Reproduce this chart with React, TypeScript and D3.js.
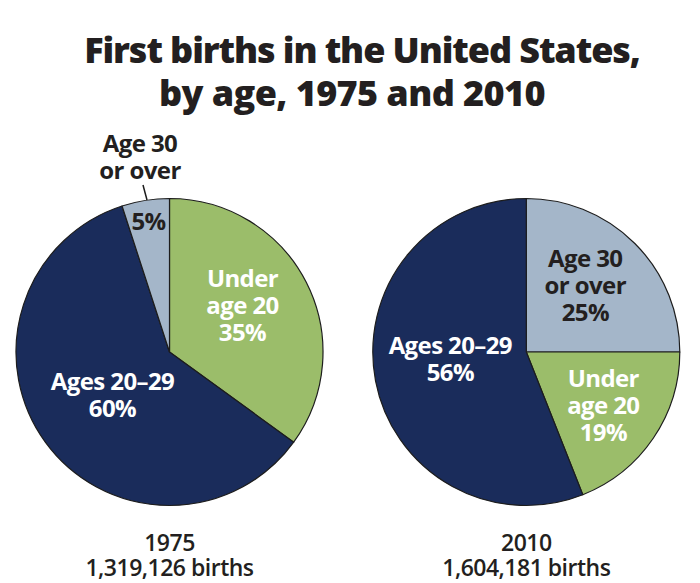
import React from "react";
import * as d3 from "d3";

const categories = ["Under age 20", "Ages 20–29", "Age 30 or over"];
const years = ["1975", "2010"];
const totals = ["1,319,126 births", "1,604,181 births"];
// order of slices clockwise from 12 o'clock for each pie
const order1975 = ["Under age 20", "Ages 20–29", "Age 30 or over"];
const values1975 = [35, 60, 5];
const order2010 = ["Age 30 or over", "Under age 20", "Ages 20–29"];
const values2010 = [25, 19, 56];

const colors: Record<string, string> = {
  "Under age 20": "#9bbd6a",
  "Ages 20–29": "#1a2c5b",
  "Age 30 or over": "#a4b6c9",
};
const textColors: Record<string, string> = {
  "Under age 20": "#ffffff",
  "Ages 20–29": "#ffffff",
  "Age 30 or over": "#231f20",
};

const W = 700;
const H = 583;
const R = 153.5;
const FONT = "'Open Sans', 'Noto Sans', sans-serif";

type Lbl = { lines: string[]; x: number; y: number };

// label anchors relative to pie center (dx, dy of first baseline)
const labels1975: Record<string, Lbl> = {
  "Under age 20": { lines: ["Under", "age 20", "35%"], x: 73, y: -65 },
  "Ages 20–29": { lines: ["Ages 20–29", "60%"], x: -57, y: 38 },
  "Age 30 or over": { lines: ["5%"], x: -21, y: -122 },
};
const labels2010: Record<string, Lbl> = {
  "Age 30 or over": { lines: ["Age 30", "or over", "25%"], x: 59, y: -85 },
  "Under age 20": { lines: ["Under", "age 20", "19%"], x: 77, y: 35 },
  "Ages 20–29": { lines: ["Ages 20–29", "56%"], x: -76, y: 2 },
};

function Pie({ cx, cy, names, values, labels }: { cx: number; cy: number; names: string[]; values: number[]; labels: Record<string, Lbl> }) {
  const pie = d3.pie<number>().sort(null).value((d) => d);
  const arcs = pie(values);
  const arc = d3.arc<d3.PieArcDatum<number>>().innerRadius(0).outerRadius(R);
  const lh = 27;
  return (
    <g transform={`translate(${cx},${cy})`}>
      {arcs.map((a, i) => (
        <path key={i} d={arc(a) || ""} fill={colors[names[i]]} stroke="#1d1d1d" strokeWidth={1.2} strokeLinejoin="round" />
      ))}
      {names.map((n, i) => {
        const l = labels[n];
        return (
          <text key={"t" + i} x={l.x} y={l.y} textAnchor="middle" fill={textColors[n]} fontFamily={FONT} fontWeight={700} fontSize={24} letterSpacing={-0.6}>
            {l.lines.map((s, j) => (
              <tspan key={j} x={l.x} dy={j === 0 ? 0 : lh}>{s}</tspan>
            ))}
          </text>
        );
      })}
    </g>
  );
}

export default function App() {
  const cx1 = 169.5, cx2 = 526.3, cy = 352;
  return (
    <div style={{ position: "absolute", left: 0, top: 0, width: W, height: H, background: "#fff" }}>
      <svg width={W} height={H} style={{ display: "block" }}>
        <rect width={W} height={H} fill="#fff" />
        <text x={W / 2 + 12} y={63} textAnchor="middle" fontFamily={FONT} fontWeight={800} fontSize={36} letterSpacing={-1.1} fill="#231f20">
          First births in the United States,
        </text>
        <text x={W / 2 + 2} y={106} textAnchor="middle" fontFamily={FONT} fontWeight={800} fontSize={36} letterSpacing={-0.6} fill="#231f20">
          by age, 1975 and 2010
        </text>
        <Pie cx={cx1} cy={cy} names={order1975} values={values1975} labels={labels1975} />
        <Pie cx={cx2} cy={cy} names={order2010} values={values2010} labels={labels2010} />
        {/* outside label for 5% slice */}
        <text x={140} y={152} textAnchor="middle" fontFamily={FONT} fontWeight={700} fontSize={24} letterSpacing={-0.6} fill="#231f20">
          <tspan x={140} dy={0}>Age 30</tspan>
          <tspan x={140} dy={27}>or over</tspan>
        </text>
        <line x1={143} y1={185} x2={147} y2={200} stroke="#1d1d1d" strokeWidth={1.5} />
        {years.map((y, i) => (
          <text key={y} x={i === 0 ? cx1 : cx2} y={551} textAnchor="middle" fontFamily={FONT} fontWeight={600} fontSize={23} letterSpacing={-0.5} fill="#231f20">
            <tspan x={i === 0 ? cx1 : cx2} dy={0}>{y}</tspan>
            <tspan x={i === 0 ? cx1 : cx2} dy={25}>{totals[i]}</tspan>
          </text>
        ))}
      </svg>
    </div>
  );
}
